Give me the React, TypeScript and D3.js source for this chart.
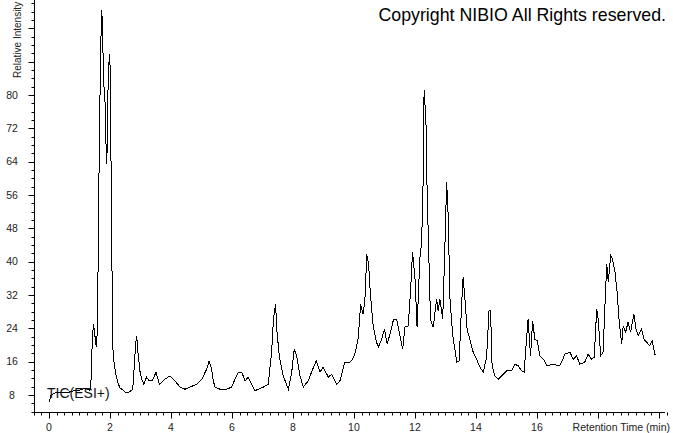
import React from 'react'
import * as d3 from 'd3'

// retention time (min) and relative intensity
const times = [
  0, 0.07, 0.2, 0.36, 0.58, 0.79, 1.02, 1.21, 1.34, 1.38,
  1.42, 1.46, 1.5, 1.55, 1.59, 1.62, 1.66, 1.72, 1.75, 1.78,
  1.81, 1.85, 1.88, 1.91, 1.94, 1.98, 2.01, 2.03, 2.06, 2.08,
  2.1, 2.13, 2.2, 2.26, 2.33, 2.43, 2.52, 2.62, 2.72, 2.76,
  2.8, 2.84, 2.88, 2.9, 2.93, 2.98, 3.04, 3.11, 3.2, 3.29,
  3.37, 3.44, 3.51, 3.62, 3.7, 3.8, 3.97, 4.13, 4.3, 4.46,
  4.62, 4.84, 5.01, 5.17, 5.25, 5.33, 5.39, 5.44, 5.61, 5.83,
  5.99, 6.1, 6.21, 6.32, 6.43, 6.53, 6.65, 6.75, 6.86, 7.03,
  7.19, 7.3, 7.36, 7.43, 7.47, 7.55, 7.68, 7.85, 7.96, 8.04,
  8.12, 8.23, 8.34, 8.5, 8.61, 8.76, 8.89, 8.99, 9.16, 9.27,
  9.43, 9.54, 9.7, 9.81, 9.92, 10.03, 10.14, 10.22, 10.3, 10.36,
  10.42, 10.48, 10.54, 10.63, 10.74, 10.8, 10.91, 11.0, 11.09, 11.18,
  11.3, 11.4, 11.5, 11.6, 11.67, 11.78, 11.86, 11.92, 12.0, 12.07,
  12.16, 12.22, 12.27, 12.3, 12.36, 12.4, 12.47, 12.51, 12.6, 12.71,
  12.76, 12.82, 12.91, 12.98, 13.04, 13.09, 13.15, 13.24, 13.31, 13.37,
  13.45, 13.53, 13.58, 13.64, 13.71, 13.8, 13.91, 14.02, 14.13, 14.24,
  14.35, 14.43, 14.48, 14.53, 14.62, 14.73, 14.84, 15.01, 15.17, 15.28,
  15.39, 15.5, 15.58, 15.66, 15.71, 15.79, 15.86, 15.93, 16.01, 16.1,
  16.21, 16.34, 16.53, 16.75, 16.92, 17.08, 17.19, 17.3, 17.41, 17.57,
  17.68, 17.79, 17.88, 17.96, 18.01, 18.09, 18.17, 18.23, 18.29, 18.34,
  18.42, 18.48, 18.56, 18.63, 18.7, 18.78, 18.83, 18.91, 18.99, 19.07,
  19.18, 19.25, 19.32, 19.43, 19.51, 19.6, 19.7, 19.78, 19.87, 19.92,
]

const intensity = [
  6.3, 8.0, 8.5, 8.7, 8.5, 9.0, 9.2, 9.7, 9.0, 11.8,
  21.4, 25.0, 22.6, 19.5, 23.8, 47.8, 74.2, 100.4, 98.2, 87.0,
  80.7, 77.1, 63.4, 67.0, 83.8, 89.8, 86.2, 67.0, 43.0, 26.2,
  18.6, 15.9, 12.8, 10.9, 9.7, 9.2, 8.5, 8.7, 9.2, 10.6,
  15.4, 20.2, 22.2, 19.0, 17.4, 13.8, 11.8, 10.6, 12.3, 11.4,
  11.4, 12.3, 13.5, 10.6, 11.1, 11.8, 12.6, 11.4, 9.9, 9.4,
  9.9, 10.6, 11.8, 14.2, 16.2, 14.2, 11.4, 9.9, 9.4, 9.4,
  9.9, 11.8, 13.5, 13.5, 11.4, 12.3, 10.6, 9.0, 9.4, 9.9,
  10.6, 18.3, 26.2, 29.8, 23.8, 17.4, 12.6, 9.4, 13.5, 19.0,
  17.4, 12.6, 9.9, 11.4, 13.5, 16.2, 13.5, 14.7, 12.3, 13.0,
  10.6, 11.4, 15.9, 15.7, 16.2, 17.8, 21.7, 29.8, 27.4, 31.0,
  41.8, 39.4, 32.2, 24.6, 20.7, 19.5, 21.4, 23.8, 20.2, 22.6,
  26.2, 26.2, 22.6, 19.0, 24.3, 24.6, 33.4, 42.3, 36.3, 24.3,
  40.6, 44.7, 59.8, 81.2, 74.2, 56.7, 37.5, 26.2, 24.3, 31.0,
  28.2, 31.0, 26.2, 43.0, 59.1, 51.0, 31.0, 22.2, 19.0, 15.9,
  16.2, 29.8, 36.3, 31.0, 23.8, 21.4, 18.3, 16.6, 14.7, 13.5,
  17.1, 28.2, 28.2, 15.0, 12.6, 11.8, 12.6, 13.8, 13.8, 15.4,
  15.0, 13.8, 13.5, 21.4, 26.2, 17.4, 25.8, 21.4, 21.0, 17.4,
  16.6, 15.0, 15.4, 15.0, 17.8, 18.3, 16.6, 17.4, 15.4, 15.9,
  17.8, 16.6, 17.1, 28.6, 26.2, 17.4, 18.3, 29.4, 39.4, 35.1,
  41.4, 40.6, 37.5, 32.7, 25.5, 20.2, 24.6, 23.1, 25.5, 23.1,
  27.4, 23.8, 22.2, 23.8, 21.4, 20.7, 19.8, 21.0, 17.8, 17.8,
]

const yLabels = [8, 16, 24, 32, 40, 48, 56, 64, 72, 80]
const xLabels = [0, 2, 4, 6, 8, 10, 12, 14, 16]

const W = 673
const H = 433
const FONT = 'Arial, "Liberation Sans", sans-serif'

export default function App() {
  const x = d3.scaleLinear().domain([-0.5, 20.2]).range([33.75, 665])
  const y = d3.scaleLinear().domain([4, 102.8]).range([411.7, 0])

  const pts: [number, number][] = times.map((t, i) => [t, intensity[i]])
  const line = d3.line<[number, number]>()
    .x(d => x(d[0]))
    .y(d => y(d[1]))

  const yTicks = d3.range(4, 103, 2)
  const xTicks = d3.range(-0.5, 20.26, 0.25)
  const x0 = Math.round(x(-0.5)) + 0.5
  const y0 = Math.round(y(4)) + 0.5

  return (
    <svg width={W} height={H} style={{ position: 'absolute', left: 0, top: 0, background: '#fff' }}
      fontFamily={FONT}>
      <rect width={W} height={H} fill="#fff" />

      {/* y axis */}
      <line x1={x0} x2={x0} y1={0} y2={y0} stroke="#000" />
      {yTicks.map(v => {
        const yy = Math.round(y(v)) + 0.5
        const len = v % 8 === 0 ? 6 : 3
        return <line key={v} x1={x0 - len} x2={x0} y1={yy} y2={yy} stroke="#000" />
      })}
      {yLabels.map(v => (
        <text key={v} x={12} y={y(v)} dy="0.35em" textAnchor="middle" fontSize={10.5} fill="#222">{v}</text>
      ))}
      <text transform="translate(21,78) rotate(-90)" fontSize={10} fill="#222">Relative Intensity</text>

      {/* x axis */}
      <line x1={x0} x2={x(20.2)} y1={y0} y2={y0} stroke="#000" />
      {xTicks.map(t => {
        const xx = Math.round(x(t)) + 0.5
        const isInt = Math.abs(t - Math.round(t)) < 1e-6
        const len = isInt && Math.round(t) % 2 === 0 ? 6 : 3
        return <line key={t} x1={xx} x2={xx} y1={y0} y2={y0 + len} stroke="#000" />
      })}
      {xLabels.map(t => (
        <text key={t} x={x(t)} y={431} textAnchor="middle" fontSize={10.5} fill="#222">{t}</text>
      ))}
      <text x={670} y={431} textAnchor="end" fontSize={10.5} fill="#222">Retention Time (min)</text>

      {/* trace */}
      <path d={line(pts) ?? ''} fill="none" stroke="#000" strokeWidth={1} shapeRendering="crispEdges" />

      <text x={47} y={398} fontSize={14} fill="#111">TIC(ESI+)</text>
      <text x={666} y={21} textAnchor="end" fontSize={17.8} fill="#000">Copyright NIBIO All Rights reserved.</text>
    </svg>
  )
}
